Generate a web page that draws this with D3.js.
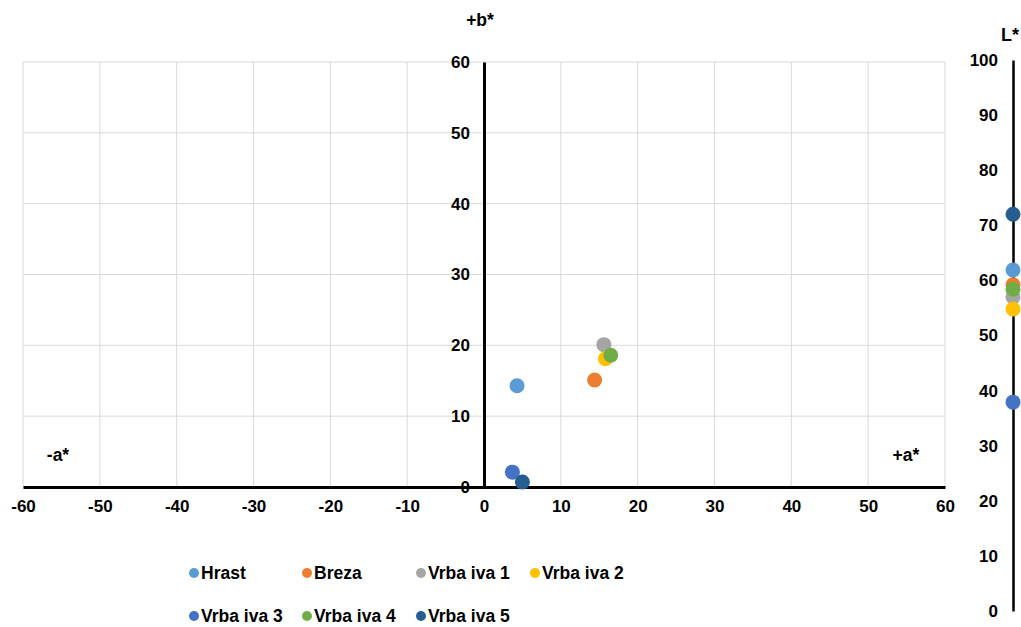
<!DOCTYPE html>
<html><head><meta charset="utf-8">
<script src="https://cdn.jsdelivr.net/npm/d3@7"></script>
<style>
html,body{margin:0;padding:0;background:#fff;}
svg{display:block;font-family:"Liberation Sans",Arial,sans-serif;font-weight:bold;}
</style></head>
<body>
<svg id="c" width="1021" height="627"></svg>
<script>
const categories = ["Hrast","Breza","Vrba iva 1","Vrba iva 2","Vrba iva 3","Vrba iva 4","Vrba iva 5"];
const aValues = [4.3, 14.4, 15.6, 15.8, 3.7, 16.5, 5.0];
const bValues = [14.3, 15.1, 20.1, 18.1, 2.1, 18.6, 0.7];
const LValues = [61.9, 59.2, 57.0, 54.8, 37.9, 58.4, 72.0];
const colors = ["#5B9BD5","#ED7D31","#A5A5A5","#FFC000","#4472C4","#70AD47","#255E91"];
const abTicks = [-60,-50,-40,-30,-20,-10,0,10,20,30,40,50,60];
const bTicks = [0,10,20,30,40,50,60];
const LTicks = [0,10,20,30,40,50,60,70,80,90,100];

const svg = d3.select("#c");
const x = d3.scaleLinear().domain([-60,60]).range([23,945]);
const y = d3.scaleLinear().domain([0,60]).range([487,62]);
const L = d3.scaleLinear().domain([0,100]).range([611,60]);
const grid = "#d9d9d9";
const fmt = d => String(d);

// gridlines
svg.append("g").selectAll("line").data(abTicks).join("line")
  .attr("x1",d=>x(d)).attr("x2",d=>x(d)).attr("y1",y(60)).attr("y2",y(0))
  .attr("stroke",grid).attr("stroke-width",1);
svg.append("g").selectAll("line").data(bTicks).join("line")
  .attr("x1",x(-60)).attr("x2",x(60)).attr("y1",d=>y(d)).attr("y2",d=>y(d))
  .attr("stroke",grid).attr("stroke-width",1);

function styleAxis(g, pathW){
  g.select(".domain").attr("stroke","#000").attr("stroke-width",pathW);
  g.selectAll(".tick text").attr("font-size",17).attr("font-weight","bold")
   .attr("fill","#000").attr("font-family","Liberation Sans, Arial, sans-serif");
}

// x axis (a*)
const gx = svg.append("g").attr("transform",`translate(0,${y(0)})`)
  .call(d3.axisBottom(x).tickValues(abTicks).tickSize(0).tickPadding(13).tickFormat(fmt));
styleAxis(gx,3);
// y axis (b*)
const gy = svg.append("g").attr("transform",`translate(${x(0)},0)`)
  .call(d3.axisLeft(y).tickValues(bTicks).tickSize(0).tickPadding(14).tickFormat(fmt));
styleAxis(gy,3);
// L axis
const gL = svg.append("g").attr("transform",`translate(1013,0)`)
  .call(d3.axisLeft(L).tickValues(LTicks).tickSize(0).tickPadding(15).tickFormat(fmt));
styleAxis(gL,2.5);

// axis titles
const t = (txt,px,py,fs)=>svg.append("text").text(txt).attr("x",px).attr("y",py)
  .attr("text-anchor","middle").attr("font-size",fs||17).attr("fill","#000").attr("dominant-baseline","central");
t("+b*",480,20,17.5);
t("L*",1010,35,18);
t("-a*",58,455,17.5);
t("+a*",906,455,17.5);

// points a*/b*
const data = categories.map((c,i)=>({c,a:aValues[i],b:bValues[i],L:LValues[i],col:colors[i]}));
svg.append("g").selectAll("circle").data(data).join("circle")
  .attr("cx",d=>x(d.a)).attr("cy",d=>y(d.b)).attr("r",7.5).attr("fill",d=>d.col);
// L points
svg.append("g").selectAll("circle").data(data).join("circle")
  .attr("cx",1013).attr("cy",d=>L(d.L)).attr("r",7.5).attr("fill",d=>d.col);

// legend
const colX = [194,307,421,535];
const rowY = [573,616];
const lg = svg.append("g").selectAll("g").data(data).join("g")
  .attr("transform",(d,i)=>`translate(${colX[i%4]},${rowY[Math.floor(i/4)]})`);
lg.append("circle").attr("r",5).attr("fill",d=>d.col);
lg.append("text").attr("x",7).attr("dominant-baseline","central").attr("font-size",17.5)
  .attr("fill","#000").text(d=>d.c);
</script>
</body></html>
